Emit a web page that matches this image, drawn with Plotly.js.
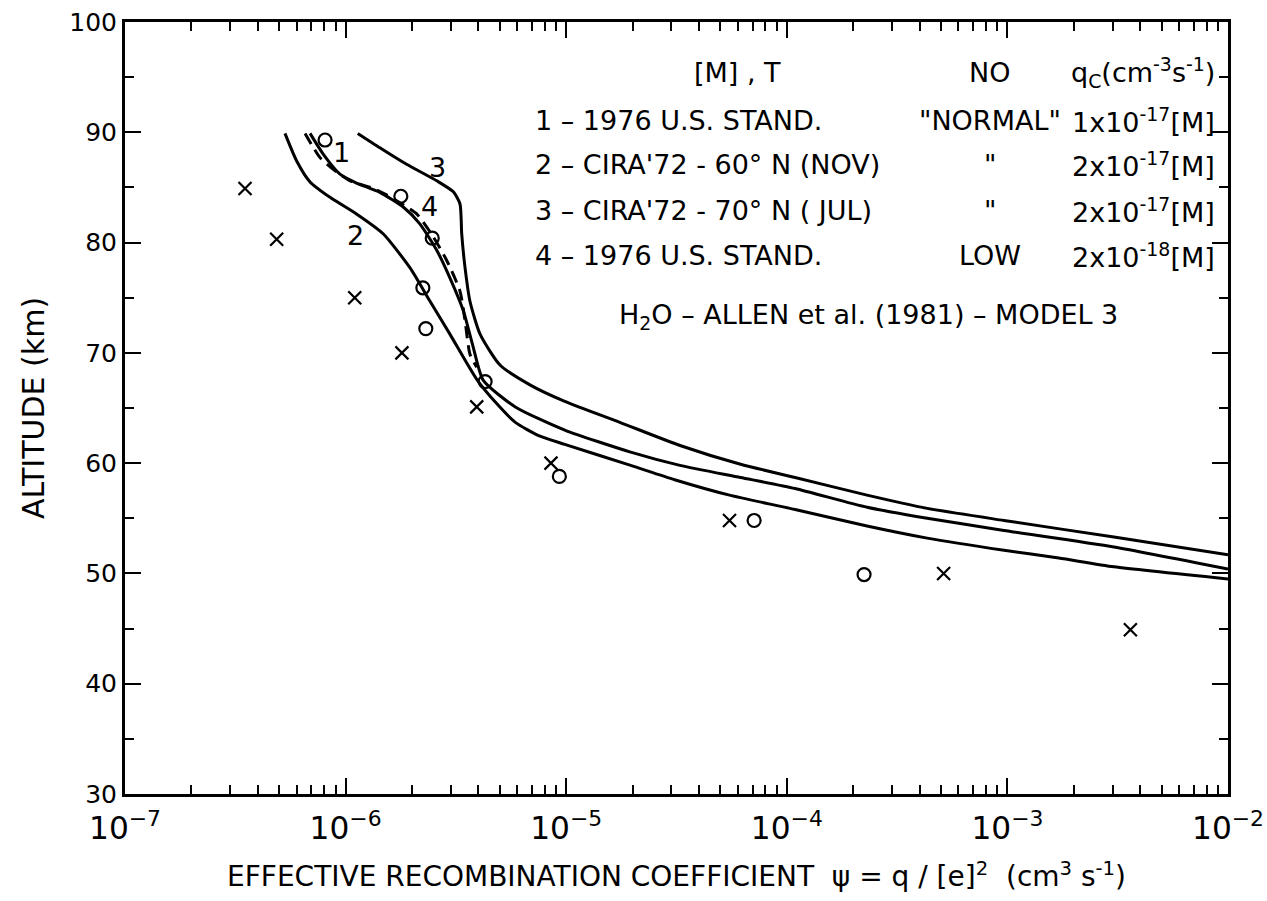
<!DOCTYPE html>
<html>
<head>
<meta charset="utf-8">
<script src="https://cdn.plot.ly/plotly-3.0.1.min.js"></script>
<style>
  html, body { margin: 0; padding: 0; background: #fff; }
  #chart { width: 1267px; height: 901px; }
</style>
</head>
<body>
<div id="chart"></div>
<script>
// ---- Data ----
// Curve 1: 1976 U.S. Standard, NO "normal"
const curve1X = [6.9e-7, 7.93e-7, 9.43e-7, 1.12e-6, 1.43e-6, 1.83e-6, 2.17e-6, 2.59e-6, 2.97e-6, 3.42e-6, 3.79e-6, 4.21e-6, 5.88e-6, 9.85e-6, 1.96e-5, 3.28e-5, 6.17e-5, 1.09e-4, 2.31e-4, 4.33e-4, 9.65e-4, 3.04e-3, 1e-2];
const curve1Y = [89.9, 88.0, 86.2, 85.4, 84.55, 83.2, 81.7, 79.3, 76.8, 73.8, 70.5, 67.5, 65.1, 63.0, 61.0, 59.8, 58.7, 57.7, 56.0, 55.0, 53.9, 52.4, 50.4];

// Curve 2: CIRA'72 60N (NOV)
const curve2X = [5.31e-7, 6.0e-7, 6.9e-7, 8.5e-7, 1.12e-6, 1.48e-6, 1.96e-6, 2.41e-6, 2.97e-6, 3.93e-6, 4.84e-6, 5.88e-6, 7.5e-6, 9.85e-6, 1.96e-5, 3.10e-5, 5.50e-5, 1.09e-4, 2.31e-4, 4.33e-4, 9.65e-4, 1.71e-3, 3.04e-3, 1e-2];
const curve2Y = [89.9, 87.4, 85.5, 84.1, 82.6, 80.8, 77.7, 74.7, 71.7, 67.6, 65.4, 63.7, 62.5, 61.7, 59.8, 58.5, 57.1, 55.8, 54.3, 53.2, 52.1, 51.4, 50.6, 49.5];

// Curve 3: CIRA'72 70N (JUL)
const curve3X = [1.135e-6, 1.43e-6, 1.89e-6, 2.59e-6, 3.08e-6, 3.30e-6, 3.36e-6, 3.48e-6, 3.66e-6, 4.07e-6, 5.01e-6, 6.85e-6, 9.85e-6, 1.75e-5, 3.28e-5, 6.17e-5, 1.09e-4, 2.31e-4, 4.33e-4, 9.65e-4, 3.04e-3, 1e-2];
const curve3Y = [89.9, 88.6, 87.1, 85.6, 84.6, 83.5, 80.8, 77.7, 74.7, 71.7, 68.9, 67.1, 65.6, 63.7, 61.6, 59.9, 58.7, 57.1, 55.9, 54.8, 53.3, 51.7];

// Curve 4 (dashed): 1976 U.S. Standard, NO low
const curve4X = [6.55e-7, 7.66e-7, 9.11e-7, 1.05e-6, 1.34e-6, 1.54e-6, 2.10e-6, 2.50e-6, 2.87e-6, 3.30e-6, 3.48e-6, 3.66e-6, 3.93e-6];
const curve4Y = [89.9, 87.7, 86.4, 85.6, 84.9, 84.3, 82.6, 80.5, 78.4, 75.6, 72.9, 69.9, 68.7];

// Measurements
const crossX = [3.5e-7, 4.87e-7, 1.10e-6, 1.80e-6, 3.93e-6, 8.53e-6, 5.50e-5, 5.14e-4, 3.61e-3];
const crossY = [84.9, 80.3, 75.0, 70.0, 65.1, 60.0, 54.8, 50.0, 44.9];
const circleX = [8.07e-7, 1.78e-6, 2.47e-6, 2.24e-6, 2.31e-6, 4.29e-6, 9.31e-6, 7.11e-5, 2.24e-4];
const circleY = [89.3, 84.2, 80.4, 75.9, 72.2, 67.4, 58.8, 54.8, 49.9];

// Tick helpers
const xDecades = [1e-7, 1e-6, 1e-5, 1e-4, 1e-3];
const minorMultipliers = [2, 3, 4, 5, 6, 7, 8, 9];

// Text content
const curveLabels = ["1", "2", "3", "4"];
const headerTexts = ["[M] , T", "NO", "q<sub>C</sub>(cm<sup>-3</sup>s<sup>-1</sup>)"];
const modelNames = ["1 – 1976 U.S. STAND.", "2 – CIRA'72 - 60° N (NOV)", "3 – CIRA'72 - 70° N ( JUL)", "4 – 1976 U.S. STAND."];
const noLevels = ["\"NORMAL\"", "\"", "\"", "LOW"];
const qcValues = ["1x10<sup>-17</sup>[M]", "2x10<sup>-17</sup>[M]", "2x10<sup>-17</sup>[M]", "2x10<sup>-18</sup>[M]"];
const waterNote = "H<sub>2</sub>O – ALLEN et al. (1981) – MODEL 3";
const xTitle = "EFFECTIVE RECOMBINATION COEFFICIENT  ψ = q / [e]<sup>2</sup>  (cm<sup>3</sup> s<sup>-1</sup>)";
const yTitle = "ALTITUDE (km)";

// minor tick positions for the log axis
const xMinorTicks = [];
xDecades.forEach(d => minorMultipliers.forEach(m => xMinorTicks.push(d * m)));

// ---- Traces ----
const lineStyle = {color: "black", width: 3, shape: "spline", smoothing: 0.6};
const traces = [
  {x: curve1X, y: curve1Y, mode: "lines", line: lineStyle, name: "1"},
  {x: curve2X, y: curve2Y, mode: "lines", line: lineStyle, name: "2"},
  {x: curve3X, y: curve3Y, mode: "lines", line: lineStyle, name: "3"},
  {x: curve4X, y: curve4Y, mode: "lines", line: Object.assign({}, lineStyle, {dash: "12px,7px"}), name: "4"},
  {x: crossX, y: crossY, mode: "markers", name: "x",
   marker: {symbol: "x-thin-open", size: 13, color: "black", line: {color: "black", width: 2.2}}},
  {x: circleX, y: circleY, mode: "markers", name: "o",
   marker: {symbol: "circle-open", size: 13, color: "black", line: {color: "black", width: 2.2}}},
  // helper (invisible) so the minor-tick axis is drawn
  {x: circleX, y: circleY, mode: "markers", xaxis: "x2", marker: {opacity: 0}, hoverinfo: "skip", name: "minor"}
];

// ---- Annotations ----
const F = "DejaVu Sans, Liberation Sans, sans-serif";
const ann = [];
const labelPos = [[9.6e-7, 88.2], [1.11e-6, 80.6], [2.62e-6, 86.8], [2.39e-6, 83.3]];
curveLabels.forEach((t, i) => {
  ann.push({x: Math.log10(labelPos[i][0]), y: labelPos[i][1], xref: "x", yref: "y", text: t,
    showarrow: false, font: {family: F, size: 27, color: "black"}});
});
const yHeader = 0.935, rowY = [0.873, 0.815, 0.756, 0.697], yNote = 0.619;
const fs = 27;
ann.push({x: 0.555, y: yHeader, xref: "paper", yref: "paper", text: headerTexts[0], showarrow: false, xanchor: "center", yanchor: "middle", font: {family: F, size: fs}});
ann.push({x: 0.784, y: yHeader, xref: "paper", yref: "paper", text: headerTexts[1], showarrow: false, xanchor: "center", yanchor: "middle", font: {family: F, size: fs}});
ann.push({x: 0.990, y: yHeader, xref: "paper", yref: "paper", text: headerTexts[2], showarrow: false, xanchor: "right", yanchor: "middle", font: {family: F, size: fs}});
modelNames.forEach((t, i) => {
  ann.push({x: 0.370, y: rowY[i], xref: "paper", yref: "paper", text: t, showarrow: false, xanchor: "left", yanchor: "middle", font: {family: F, size: fs}});
  ann.push({x: 0.784, y: rowY[i], xref: "paper", yref: "paper", text: noLevels[i], showarrow: false, xanchor: "center", yanchor: "middle", font: {family: F, size: fs}});
  ann.push({x: 0.990, y: rowY[i], xref: "paper", yref: "paper", text: qcValues[i], showarrow: false, xanchor: "right", yanchor: "middle", font: {family: F, size: fs}});
});
ann.push({x: 0.674, y: yNote, xref: "paper", yref: "paper", text: waterNote, showarrow: false, xanchor: "center", yanchor: "middle", font: {family: F, size: fs}});

// ---- Layout ----
const axisCommon = {
  showline: true, linewidth: 3, linecolor: "black", mirror: "ticks",
  ticks: "inside", ticklen: 16, tickwidth: 2, tickcolor: "black",
  showgrid: false, zeroline: false
};
const layout = {
  width: 1267, height: 901,
  margin: {l: 125, r: 39, t: 22, b: 107},
  paper_bgcolor: "white", plot_bgcolor: "white",
  showlegend: false,
  font: {family: F, color: "black"},
  xaxis: Object.assign({}, axisCommon, {
    type: "log", range: [-7, -2], dtick: 1,
    exponentformat: "power", showexponent: "all",
    tickfont: {family: F, size: 25, color: "black"},
    ticklabelstandoff: 6, ticklabeloverflow: "allow",
    title: {text: xTitle, font: {family: F, size: 28, color: "black"}, standoff: 22}
  }),
  xaxis2: {
    type: "log", range: [-7, -2], overlaying: "x", side: "bottom",
    tickmode: "array", tickvals: xMinorTicks, showticklabels: false,
    ticks: "inside", ticklen: 9, tickwidth: 2, tickcolor: "black",
    mirror: "ticks", showline: false, showgrid: false, zeroline: false
  },
  yaxis: Object.assign({}, axisCommon, {
    range: [30, 100], dtick: 10,
    tickfont: {family: F, size: 25, color: "black"},
    minor: {ticks: "inside", ticklen: 9, tickwidth: 2, tickcolor: "black", dtick: 5, showgrid: false},
    title: {text: yTitle, font: {family: F, size: 30, color: "black"}, standoff: 16}
  }),
  annotations: ann
};

Plotly.newPlot("chart", traces, layout, {staticPlot: true, displayModeBar: false});
</script>
</body>
</html>
